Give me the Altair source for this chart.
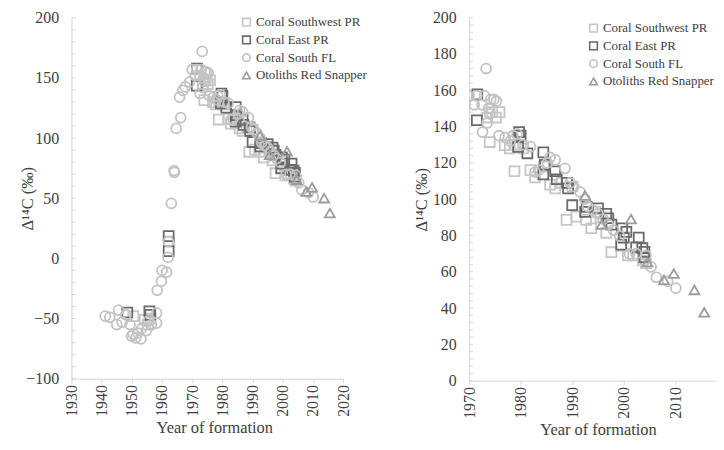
import altair as alt
import pandas as pd

series_names = ["Coral Southwest PR", "Coral East PR", "Coral South FL", "Otoliths Red Snapper"]
series_colors = ["#c6c6c6", "#6a6a6a", "#c2c2c2", "#9c9c9c"]
series_shapes = ["square", "square", "circle", "triangle-up"]

# Coral Southwest PR (light squares)
swpr_year = [1950.5, 1954.3, 1955.3, 1956.2, 1962.3,
             1973.5, 1974.5, 1975.2, 1975.9, 1974.0, 1976.9, 1977.9, 1979.0, 1978.8, 1980.5,
             1981.9, 1982.8, 1984.5, 1985.7, 1986.7, 1988.0, 1988.9, 1990.0, 1990.8, 1992.7,
             1993.7, 1994.5, 1995.5, 1996.6, 1997.6, 1999.5, 2000.8, 2001.8, 2003.7, 2004.3]
swpr_d14c = [-48, -51, -55, -50, 14,
             145, 148, 145, 148, 131.5, 129.8, 128, 130, 115.4, 128,
             116, 112, 118, 108, 106, 109, 88.6, 107, 90.4, 88.6,
             84, 93, 90, 81.5, 70.8, 74.4, 69, 69, 66.3, 64.7]

# Coral East PR (dark squares)
eapr_year = [1948.5, 1955.8, 1956.1, 1962.2, 1962.2,
             1971.6, 1971.5, 1979.7, 1980.0, 1979.5, 1981.3, 1984.4, 1984.7, 1984.4, 1986.7,
             1987.0, 1989.0, 1989.2, 1990.0, 1992.8, 1992.5, 1995.0, 1996.6, 1997.0, 1997.6,
             1999.7, 1999.5, 2000.5, 2000.0, 2002.9, 2002.4, 2003.6, 2004.0, 2004.0]
eapr_d14c = [-45, -44, -47, 18.5, 6,
             157.8, 143.5, 137, 135, 128.8, 125.3, 125.8, 119, 113.7, 115.4,
             111, 109, 106, 96.7, 95.8, 93, 95, 92, 89.5, 86,
             84, 75, 82, 78.8, 78.8, 73.5, 73, 71, 68]

# Coral South FL (circles)
sfl_year = [1941.2, 1942.7, 1945.0, 1945.6, 1946.8, 1948.0, 1949.4, 1949.9, 1950.5, 1951.3,
            1952.0, 1953.3, 1953.0, 1954.8, 1955.5, 1956.5, 1958.2, 1958.2, 1958.4, 1959.8,
            1960.0, 1961.5, 1962.0, 1962.1, 1963.1, 1964.0, 1964.1, 1964.7, 1966.2, 1965.8,
            1966.9, 1967.7, 1969.1, 1970.0, 1971.0, 1971.5, 1972.6, 1972.5, 1973.3, 1973.0,
            1973.8, 1974.2, 1974.8, 1975.3, 1973.5, 1974.0, 1975.8, 1977.0, 1978.0, 1979.3,
            1978.5, 1980.5, 1981.9, 1982.8, 1983.5, 1985.2, 1985.7, 1986.7, 1988.6, 1989.6,
            1990.3, 1991.5, 1992.5, 1993.0, 1994.0, 1995.0, 1996.0, 1997.0, 1998.0, 1999.2,
            2001.1, 2002.4, 2004.3, 2005.3, 2006.3, 2008.5, 2010.1]
sfl_d14c = [-48, -49, -55, -43, -53, -47, -55, -64.6, -63, -66,
            -62, -58, -67, -60, -52, -55, -45.5, -53.8, -26.5, -19,
            -10, -11.5, 0.8, 14, 45.7, 73, 71.5, 108, 117, 134,
            139.6, 142.5, 146.5, 157, 152, 157, 137, 152, 172, 157,
            150, 155, 155, 154, 142, 147, 135, 134, 132, 136,
            135, 130, 129, 115, 116, 120, 123, 121.7, 117, 109,
            107, 104, 100, 96, 94, 92, 89, 86, 83, 79.7,
            69.9, 70, 69, 62.7, 57, 54.7, 51]

# Otoliths Red Snapper (triangles)
otol_year = [1992.5, 1995.7, 2001.4, 2004.6, 2007.8, 2009.7, 2013.7, 2015.6]
otol_d14c = [102, 86, 89, 65.4, 55.6, 59, 50, 37.7]

left_ticks = [-100, -90, -80, -70, -60, -50, -40, -30, -20, -10, 0, 10, 20, 30, 40, 50, 60, 70, 80, 90,
              100, 110, 120, 130, 140, 150, 160, 170, 180, 190, 200]
right_ticks = [0, 4, 8, 12, 16, 20, 24, 28, 32, 36, 40, 44, 48, 52, 56, 60, 64, 68, 72, 76, 80, 84, 88,
               92, 96, 100, 104, 108, 112, 116, 120, 124, 128, 132, 136, 140, 144, 148, 152, 156, 160,
               164, 168, 172, 176, 180, 184, 188, 192, 196, 200]

rows = []
for name, ys, vs in zip(series_names,
                        [swpr_year, eapr_year, sfl_year, otol_year],
                        [swpr_d14c, eapr_d14c, sfl_d14c, otol_d14c]):
    for yr, v in zip(ys, vs):
        rows.append({"year": yr, "d14c": v, "series": name})
df = pd.DataFrame(rows)

FONT = "Liberation Serif"
TXT = "#404040"
AX = "#d4d4d4"
YTITLE = "\u0394\u00b9\u2074C (\u2030)"


def panel(xdom, xvals, ydom, yvals, ticks, w, h, legx, legy, ytitx, xtitx, xlabexpr):
    yaxis = alt.Axis(values=yvals, title=YTITLE, ticks=False, labelPadding=13,
                     titleX=ytitx, titleBaseline="middle", titleAngle=270)
    xaxis = alt.Axis(values=xvals, title="Year of formation", labelAngle=270, format="d",
                     tickSize=4, labelPadding=2, titleY=49.5, titleBaseline="middle",
                     titleX=xtitx, labelExpr=xlabexpr)
    leg = alt.Legend(title=None, orient="none", legendX=legx, legendY=legy,
                     symbolSize=60, symbolStrokeWidth=1.6, labelFont=FONT,
                     labelFontSize=13, labelColor=TXT, rowPadding=2.9, labelOffset=3)
    pts = alt.Chart(df).mark_point(filled=False, opacity=1, strokeWidth=1.8, size=100, clip=True).encode(
        x=alt.X("year:Q", scale=alt.Scale(domain=xdom, nice=False, zero=False), axis=xaxis),
        y=alt.Y("d14c:Q", scale=alt.Scale(domain=ydom, nice=False, zero=False), axis=yaxis),
        color=alt.Color("series:N", scale=alt.Scale(domain=series_names, range=series_colors), legend=leg),
        shape=alt.Shape("series:N", scale=alt.Scale(domain=series_names, range=series_shapes), legend=leg),
        order=alt.Order("idx:Q"),
    ).transform_window(idx="row_number()").transform_filter(
        f"datum.year >= {xdom[0]}")
    tk = alt.Chart(pd.DataFrame({"v": ticks})).mark_rule(color=AX, strokeWidth=1).encode(
        y=alt.Y("v:Q", axis=yaxis),
        x=alt.value(0), x2=alt.value(4))
    return alt.layer(tk, pts).properties(width=w, height=h)


left = panel([1930, 2020], list(range(1930, 2021, 10)), [-100, 200], list(range(-100, 201, 50)),
             left_ticks, 274, 364, 170, -2, -44, 144, "datum.label")
right = panel([1970, 2020], list(range(1970, 2021, 10)), [0, 200], list(range(0, 201, 20)),
              right_ticks, 260, 366, 119, 4, -48, 130, "datum.value == 2020 ? '' : datum.label")

chart = alt.hconcat(left, right, spacing=127, bounds="flush").resolve_legend(
    color="independent", shape="independent").properties(
    padding={"left": 12, "top": 0, "right": -12, "bottom": 0}
).configure_view(strokeWidth=0).configure_axis(
    labelFont=FONT, labelFontSize=16, labelColor=TXT, titleFont=FONT, titleFontSize=16.5,
    titleColor=TXT, titleFontWeight="normal", domainColor=AX, tickColor=AX, grid=False
)

chart.save("out.html", embed_options={"renderer": "svg", "actions": False})
